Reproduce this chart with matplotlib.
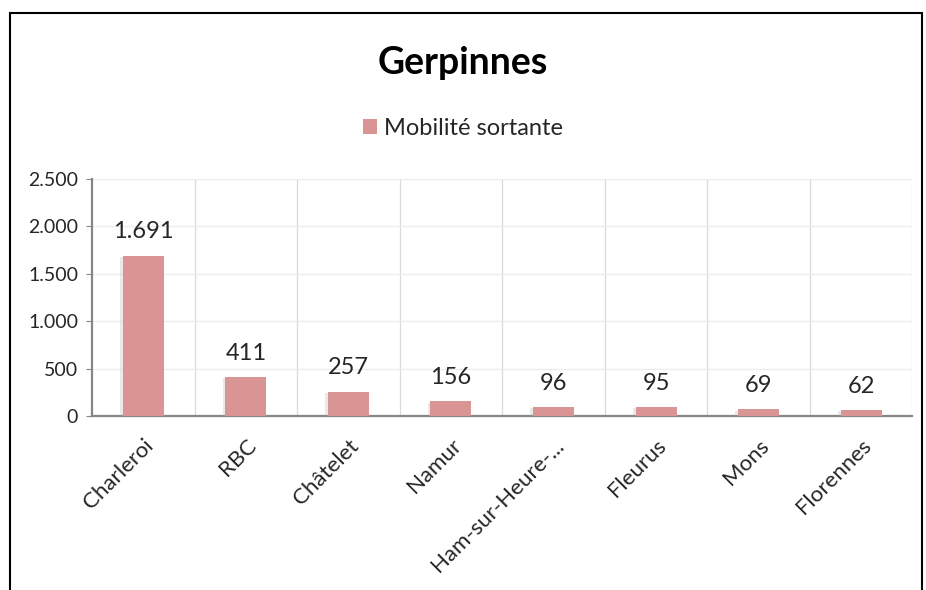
import matplotlib.pyplot as plt
from matplotlib.patches import Rectangle
from matplotlib.ticker import FuncFormatter, MultipleLocator
import matplotlib.patheffects as pe

# -------- DATA -------------------------------------------------------
TITLE = "Gerpinnes"
SERIES_NAME = "Mobilité sortante"
categories = ["Charleroi", "RBC", "Châtelet", "Namur", "Ham-sur-Heure-...",
              "Fleurus", "Mons", "Florennes"]
values = [1691, 411, 257, 156, 96, 95, 69, 62]
# ---------------------------------------------------------------------

BAR_COLOR = "#D99594"
GRID_COLOR = "#D9D9D9"
AXIS_COLOR = "#868686"

plt.rcParams["font.family"] = ["Lato", "DejaVu Sans"]


def fmt_thousands(v, _):
    return f"{int(v):,}".replace(",", ".")


def main():
    fig = plt.figure(figsize=(9.26, 5.9), dpi=100)
    ax = fig.add_axes([0.0994, 0.295, 0.886, 0.402])

    x = list(range(len(categories)))
    bars = ax.bar(x, values, width=0.4, color=BAR_COLOR, zorder=3,
                  label=SERIES_NAME)

    for xi, v in zip(x, values):
        ax.text(xi, v + 140, fmt_thousands(v, None), ha="center", va="bottom",
                fontsize=17, color="#262626")

    ax.set_xlim(-0.5, len(categories) - 0.5)
    ax.set_ylim(0, 2500)
    ax.yaxis.set_major_locator(MultipleLocator(500))
    ax.yaxis.set_major_formatter(FuncFormatter(fmt_thousands))

    # vertical gridlines at category boundaries
    for b in range(1, len(categories) + 1):
        ax.axvline(b - 0.5, color=GRID_COLOR, linewidth=0.9, zorder=1)
    ax.grid(axis="y", color="#EDEDED", linewidth=1.0, zorder=0)

    ax.set_xticks(x)
    ax.set_xticklabels(categories, rotation=45, ha="right", rotation_mode="anchor",
                       fontsize=16, color="#262626")
    ax.tick_params(axis="x", length=0, pad=14)
    ax.tick_params(axis="y", length=4, color=AXIS_COLOR, labelsize=14,
                   labelcolor="#262626", pad=6)

    for s in ["top", "right"]:
        ax.spines[s].set_visible(False)
    for s in ["left", "bottom"]:
        ax.spines[s].set_color(AXIS_COLOR)
        ax.spines[s].set_linewidth(1.6)

    fig.text(0.5, 0.893, TITLE, ha="center", va="center", fontsize=27,
             fontweight="bold", color="black")
    leg = fig.legend(loc="center", bbox_to_anchor=(0.5, 0.783), frameon=False,
                     fontsize=17, handlelength=0.6, handleheight=0.6,
                     handletextpad=0.3)
    for t in leg.get_texts():
        t.set_color("#262626")

    # soft shadow on the bars only (added after the legend so its handle stays clean)
    for b in bars:
        b.set_path_effects([pe.SimplePatchShadow(offset=(-2, -1), shadow_rgbFace="#AAAAAA",
                                                 alpha=0.25),
                            pe.Normal()])

    # chart border
    fig.patches.append(Rectangle((10 / 926, -0.1), 912 / 926, 1.1 - 13 / 590,
                                 transform=fig.transFigure, fill=False,
                                 edgecolor="black", linewidth=1.5))

    fig.savefig("out.png", dpi=100)


if __name__ == "__main__":
    main()
